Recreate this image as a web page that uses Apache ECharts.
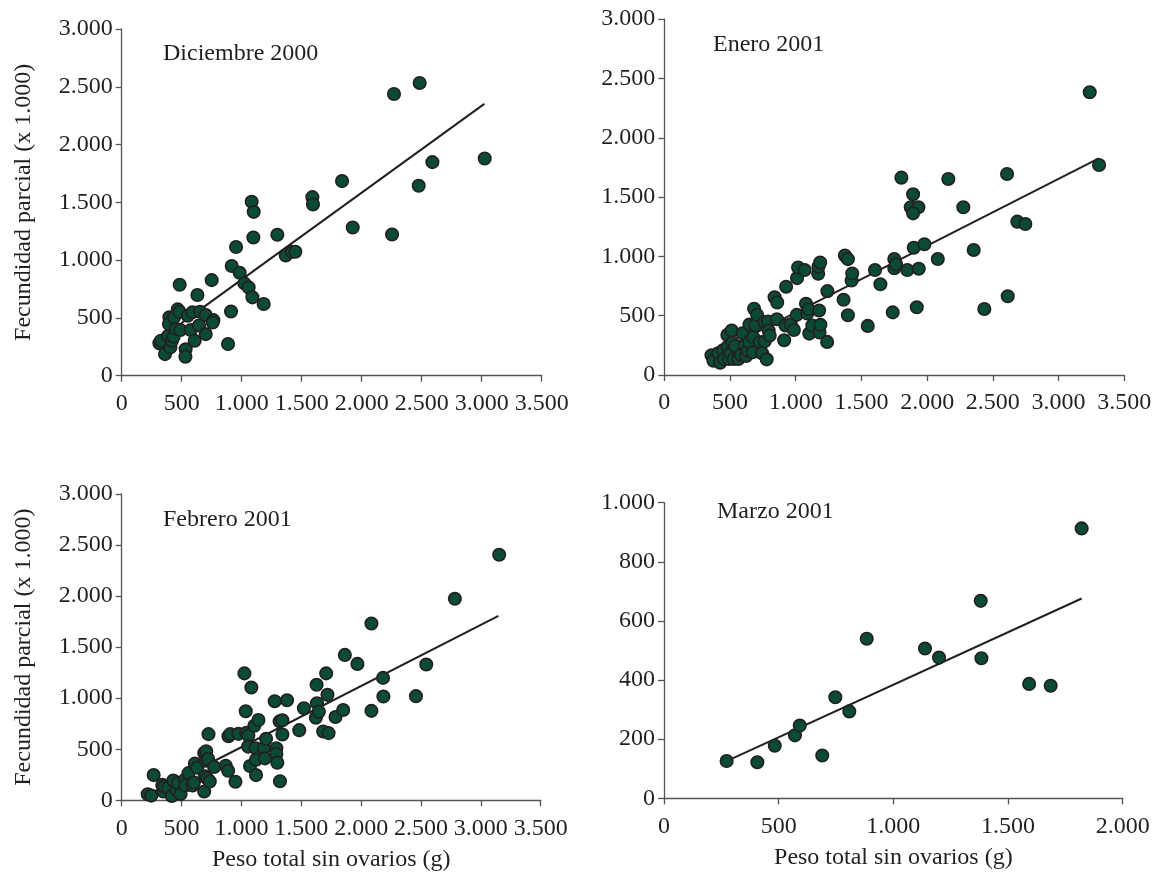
<!DOCTYPE html>
<html>
<head>
<meta charset="utf-8">
<script src="https://cdn.jsdelivr.net/npm/echarts@6/dist/echarts.min.js"></script>
<style>
html,body{margin:0;padding:0;background:#fff;}
#chart{width:1169px;height:874px;}
</style>
</head>
<body>
<div id="chart"></div>
<script>
// ---- Data ----
const panelTitles = ['Diciembre 2000', 'Enero 2001', 'Febrero 2001', 'Marzo 2001'];
const yAxisName = 'Fecundidad parcial (x 1.000)';
const xAxisName = 'Peso total sin ovarios (g)';

const decX = [314,328,361,386,397,394,406,419,436,433,453,467,481,483,489,533,531,550,575,589,608,631,644,653,700,700,750,764,758,886,911,917,953,983,1022,1058,1089,1083,1100,1097,1183,1297,1367,1419,1447,1589,1594,1836,1925,2269,2483,2589,3025,2475,2253];
const decY = [280,303,187,343,505,447,245,303,505,337,404,574,553,787,395,228,164,519,395,548,303,698,435,553,525,360,827,481,460,274,556,949,1113,891,799,764,678,1505,1418,1196,620,1220,1041,1072,1072,1545,1482,1684,1283,2438,2533,1848,1879,1643,1222];

const eneX = [359,374,410,425,447,457,480,482,492,505,513,518,528,538,563,583,595,613,623,636,646,648,673,676,683,693,706,726,744,761,764,779,789,794,802,839,859,857,912,922,927,962,986,1008,1010,1018,1068,1078,1088,1098,1103,1126,1171,1173,1186,1178,1181,1188,1239,1241,1364,1374,1397,1397,1425,1430,1548,1603,1644,1738,1750,1750,1763,1804,1849,1875,1893,1933,1893,1898,1979,1921,1936,2081,2161,2275,2354,2435,2608,2613,2686,2747,3237,3308];
const eneY = [166,121,183,104,208,135,338,239,135,183,375,273,135,245,135,169,352,248,161,206,279,425,192,318,558,420,507,276,183,445,285,132,451,375,332,656,611,470,293,417,744,428,380,507,817,907,885,600,518,555,349,417,854,913,949,544,358,423,279,707,634,1008,977,504,797,856,414,885,765,528,978,900,933,1664,885,1414,1524,1414,1363,1073,1102,571,896,978,1653,1414,1054,557,1695,664,1293,1273,2384,1771];

const febX = [217,247,267,339,347,356,389,419,431,458,469,492,528,531,558,592,603,611,631,689,694,689,706,703,722,714,736,725,772,869,889,892,906,950,975,1025,1036,1042,1058,1056,1072,1083,1108,1119,1122,1122,1142,1189,1197,1206,1278,1292,1292,1300,1322,1319,1342,1342,1381,1483,1522,1622,1631,1647,1628,1683,1708,1719,1728,1786,1850,1864,1969,2086,2086,2183,2186,2458,2544,2783,3153];
const febY = [59,46,247,151,86,135,125,43,194,102,168,62,201,145,266,145,174,359,319,86,234,464,480,388,405,214,184,648,326,339,289,628,648,181,651,1243,872,661,635,526,335,1105,730,510,398,247,786,513,411,602,970,510,454,368,187,773,783,645,980,687,901,809,951,868,1131,674,1243,1033,658,816,885,1424,1336,1732,876,1199,1016,1020,1330,1974,2405];

const marX = [273,407,483,571,592,690,747,808,884,1138,1199,1381,1384,1592,1686,1821];
const marY = [126,122,178,213,246,145,342,294,540,507,476,668,474,387,381,913];

// Trend line end points as drawn in the reference
const decLineX = [314, 3022];
const decLineY = [316, 2352];
const eneLineX = [359, 3306];
const eneLineY = [165, 1827];
const febLineX = [217, 3147];
const febLineY = [52, 1807];
const marLineX = [273, 1821];
const marLineY = [126, 676];

// Axis ranges
const xMax = [3500, 3500, 3500, 2000];
const xStep = [500, 500, 500, 500];
const yMax = [3000, 3000, 3000, 1000];
const yStep = [500, 500, 500, 200];

// ---- Rendering ----
const FONT = 'Liberation Serif';
const TXT = '#231f20';
const AXIS = '#555';
const FS = 24;
const fmt = v => v >= 1000 ? Math.floor(v / 1000) + '.' + String(v % 1000).padStart(3, '0') : String(v);
const zip = (a, b) => a.map((v, i) => [v, b[i]]);

const grids = [
  {left: 121.7, top: 29, width: 420, height: 346.7},
  {left: 664.3, top: 19.2, width: 460, height: 355.8},
  {left: 121.7, top: 494, width: 419, height: 306.3},
  {left: 664, top: 502.7, width: 458.7, height: 295.6}
];

function xAxis(i) {
  return {
    gridIndex: i, type: 'value', min: 0, max: xMax[i], interval: xStep[i],
    name: i >= 2 ? xAxisName : '', nameLocation: 'middle', nameGap: 47,
    nameTextStyle: {fontFamily: FONT, fontSize: FS, color: TXT},
    axisLine: {show: true, lineStyle: {color: AXIS, width: 1.3}},
    axisTick: {show: true, inside: false, length: 6, lineStyle: {color: AXIS, width: 1.3}},
    axisLabel: {fontFamily: FONT, fontSize: FS, color: TXT, margin: 16, formatter: fmt},
    splitLine: {show: false}
  };
}
function yAxis(i) {
  return {
    gridIndex: i, type: 'value', min: 0, max: yMax[i], interval: yStep[i],
    name: (i === 0 || i === 2) ? yAxisName : '', nameLocation: 'middle', nameGap: 86,
    nameTextStyle: {fontFamily: FONT, fontSize: FS, color: TXT},
    axisLine: {show: true, lineStyle: {color: AXIS, width: 1.3}},
    axisTick: {show: true, inside: false, length: 6, lineStyle: {color: AXIS, width: 1.3}},
    axisLabel: {fontFamily: FONT, fontSize: FS, color: TXT, margin: 9, formatter: fmt},
    splitLine: {show: false}
  };
}

const titlePos = [
  {left: 163, top: 42},
  {left: 713, top: 33},
  {left: 163, top: 508},
  {left: 717, top: 500}
];

const pts = [zip(decX, decY), zip(eneX, eneY), zip(febX, febY), zip(marX, marY)];
const lines = [zip(decLineX, decLineY), zip(eneLineX, eneLineY), zip(febLineX, febLineY), zip(marLineX, marLineY)];

const series = [];
for (let i = 0; i < 4; i++) {
  series.push({
    type: 'line', xAxisIndex: i, yAxisIndex: i, data: lines[i],
    showSymbol: false, symbol: 'none', silent: true,
    lineStyle: {color: '#231f20', width: 2}, z: 2, animation: false
  });
  series.push({
    type: 'scatter', xAxisIndex: i, yAxisIndex: i, data: pts[i],
    symbol: 'circle', symbolSize: 12.5,
    itemStyle: {color: '#0b4a33', borderColor: '#231f20', borderWidth: 1.6, opacity: 1},
    z: 3, animation: false
  });
}

const chart = echarts.init(document.getElementById('chart'), null, {renderer: 'canvas'});
chart.setOption({
  backgroundColor: '#ffffff',
  animation: false,
  title: panelTitles.map((t, i) => ({
    text: t, left: titlePos[i].left, top: titlePos[i].top, padding: 0,
    textStyle: {fontFamily: FONT, fontSize: FS, fontWeight: 'normal', color: TXT}
  })),
  grid: grids,
  xAxis: [0, 1, 2, 3].map(xAxis),
  yAxis: [0, 1, 2, 3].map(yAxis),
  series: series
});
</script>
</body>
</html>
